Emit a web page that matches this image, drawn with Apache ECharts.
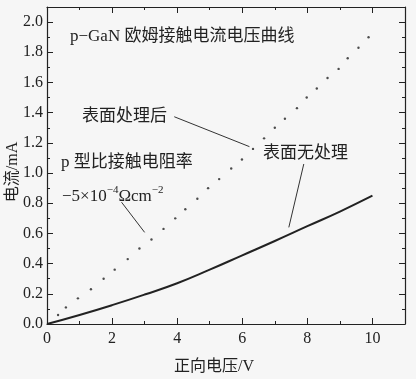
<!DOCTYPE html>
<html><head><meta charset="utf-8">
<script src="https://cdn.jsdelivr.net/npm/echarts@6/dist/echarts.min.js"></script>
<style>html,body{margin:0;padding:0;background:#f6f6f6;}#c{width:416px;height:379px;}</style>
</head><body><div id="c"></div>
<script>
// Treated sample (dotted)
const treatedV = [0.34,0.58,0.95,1.35,1.74,2.08,2.48,2.84,3.21,3.58,3.94,4.25,4.62,4.95,5.29,5.66,5.99,6.33,6.67,7.00,7.31,7.68,7.98,8.29,8.62,8.96,9.24,9.57,9.88];
const treatedI = [0.06,0.11,0.17,0.23,0.30,0.36,0.43,0.50,0.56,0.63,0.70,0.76,0.83,0.90,0.96,1.03,1.09,1.16,1.23,1.30,1.36,1.43,1.50,1.56,1.63,1.69,1.76,1.83,1.90];
// Untreated sample (solid)
const untreatedV = [0,1,2,3,4,5,6,7,8,9,10];
const untreatedI = [0,0.06,0.125,0.195,0.27,0.36,0.455,0.55,0.648,0.745,0.85];
// Ticks
const xMajor = [0,2,4,6,8,10];
const xMinor = [1,3,5,7,9];
const yMajor = [0,0.2,0.4,0.6,0.8,1.0,1.2,1.4,1.6,1.8,2.0];
const yMinor = [0.1,0.3,0.5,0.7,0.9,1.1,1.3,1.5,1.7,1.9];
// Annotation arrows (data coords)
const arrows = [
  [[3.91,1.373],[6.22,1.175]],
  [[7.89,1.06],[7.43,0.64]],
  [[2.29,0.807],[3.0,0.607]]
];

const ink = '#222';
const serif = 'Liberation Serif';
const cjk = '"Liberation Serif","Noto Sans CJK SC",sans-serif';

function xAx(pos, ticks, len, labels, line) {
  return {type:'value', position:pos, min:0, max:11,
    axisLine:{show:line, onZero:false, lineStyle:{color:ink, width:1.2}},
    axisTick:{show:true, inside:true, length:len, customValues:ticks, lineStyle:{color:ink, width:1}},
    axisLabel:{show:labels, customValues:labels?ticks:undefined, color:ink, fontFamily:serif, fontSize:16, margin:7},
    splitLine:{show:false}};
}
function yAx(pos, ticks, len, labels, line) {
  return {type:'value', position:pos, min:0, max:2.1,
    axisLine:{show:line, onZero:false, lineStyle:{color:ink, width:1.2}},
    axisTick:{show:true, inside:true, length:len, customValues:ticks, lineStyle:{color:ink, width:1}},
    axisLabel:{show:labels, customValues:labels?ticks:undefined, color:ink, fontFamily:serif, fontSize:16, margin:4,
      formatter:v=>v.toFixed(1)},
    splitLine:{show:false}};
}

const chart = echarts.init(document.getElementById('c'), null, {renderer:'canvas'});
chart.setOption({
  backgroundColor:'#f6f6f6',
  animation:false,
  grid:{left:47, right:11, top:7, bottom:55},
  xAxis:[xAx('bottom',xMajor,6,true,true), xAx('bottom',xMinor,3,false,false),
         xAx('top',xMajor,6,false,true), xAx('top',xMinor,3,false,false)],
  yAxis:[yAx('left',yMajor,6,true,true), yAx('left',yMinor,3,false,false),
         yAx('right',yMajor,6,false,true), yAx('right',yMinor,3,false,false)],
  series:[
    {type:'scatter', xAxisIndex:0, yAxisIndex:0, symbol:'circle', symbolSize:2.4,
     itemStyle:{color:'#222'}, data:treatedV.map((v,i)=>[v,treatedI[i]])},
    {type:'line', xAxisIndex:0, yAxisIndex:0, smooth:true, showSymbol:false,
     lineStyle:{color:ink, width:2}, data:untreatedV.map((v,i)=>[v,untreatedI[i]]),
     markLine:{silent:true, symbol:['none','arrow'], symbolSize:[0,7], label:{show:false},
       lineStyle:{color:'#333', width:1, type:'solid'},
       emphasis:{disabled:true},
       data:arrows.map(a=>[{coord:a[0]},{coord:a[1]}])}}
  ],
  graphic:[
    {type:'text', x:70, y:37, style:{text:'p−GaN 欧姆接触电流电压曲线', font:'17px '+cjk, fill:ink, textVerticalAlign:'middle'}},
    {type:'text', x:82, y:117, style:{text:'表面处理后', font:'17px '+cjk, fill:ink, textVerticalAlign:'middle'}},
    {type:'text', x:263, y:154, style:{text:'表面无处理', font:'17px '+cjk, fill:ink, textVerticalAlign:'middle'}},
    {type:'text', x:61, y:163, style:{text:'p 型比接触电阻率', font:'17px '+cjk, fill:ink, textVerticalAlign:'middle'}},
    {type:'text', x:62, y:185, style:{text:'{n|−5×10}{s|−4}{n|Ωcm}{s|−2}', fill:ink,
      rich:{n:{fontFamily:serif, fontSize:17, color:ink, verticalAlign:'bottom', lineHeight:20},
            s:{fontFamily:serif, fontSize:11, color:ink, verticalAlign:'top', lineHeight:20}}}},
    {type:'text', x:13, y:172, rotation:Math.PI/2, style:{text:'电流/mA', font:'16px '+cjk, fill:ink, textAlign:'center', textVerticalAlign:'middle'}},
    {type:'text', x:214, y:367, style:{text:'正向电压/V', font:'16px '+cjk, fill:ink, textAlign:'center', textVerticalAlign:'middle'}}
  ]
});
</script></body></html>
